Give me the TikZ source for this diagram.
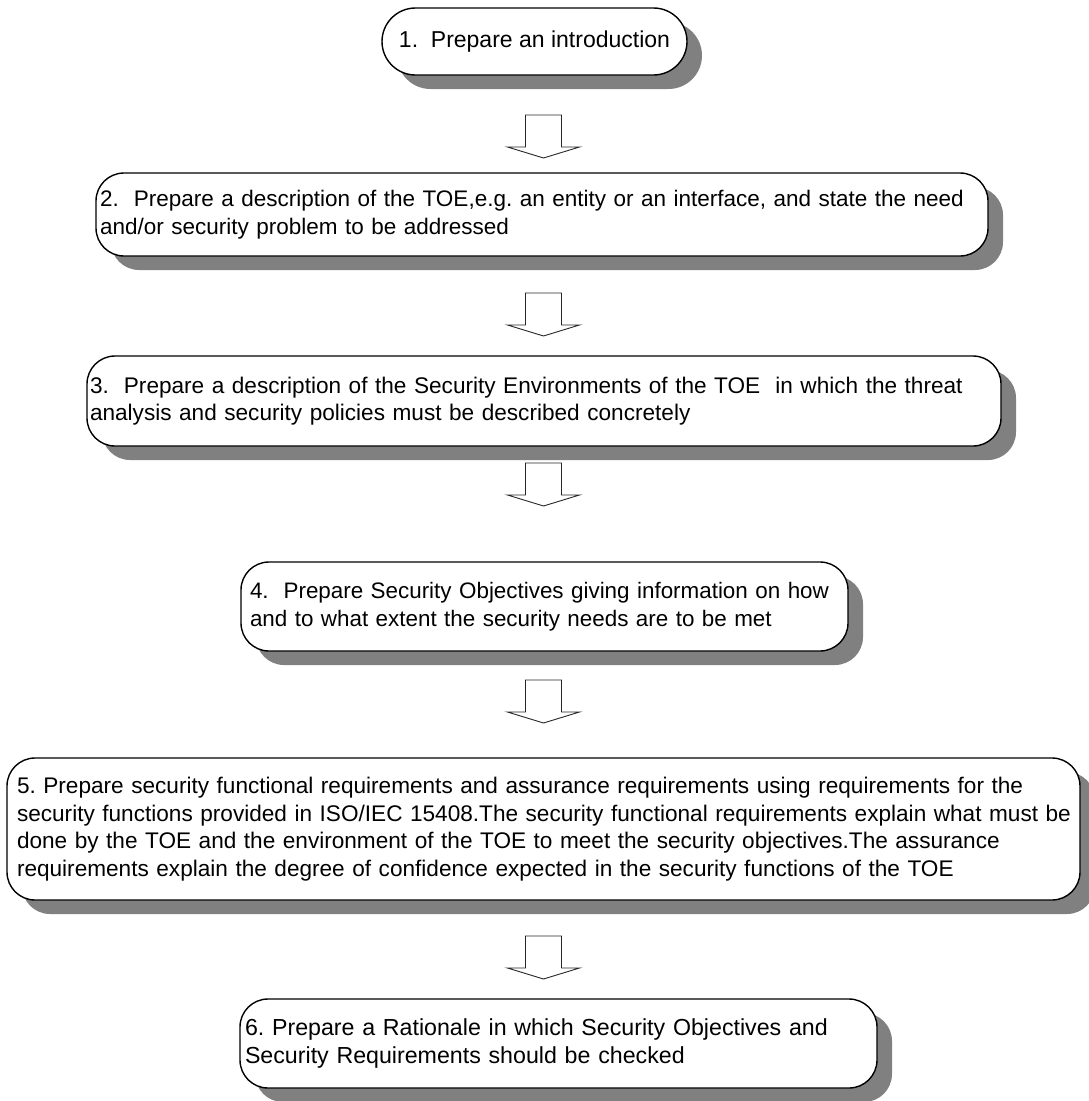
\documentclass[tikz,border=0pt]{standalone}
\usepackage{fontspec}
\setmainfont{Liberation Sans}
\usetikzlibrary{shadows}
\newcommand{\fs}[1]{\fontsize{#1}{27.5}\selectfont\frenchspacing}
\begin{document}
\begin{tikzpicture}[x=1pt,y=-1pt,
  stepbox/.style={draw=black, line width=1.4pt, fill=white, rounded corners=28pt,
    align=left, inner ysep=0pt, font=\fs{22.5},
    drop shadow={shadow xshift=15pt, shadow yshift=-14pt, fill=black!50, opacity=1}},
  blockarrow/.pic={\draw[line width=0.9pt, draw=black!85, fill=white]
    (-18,0) -- (18,0) -- (18,32) -- (36,32) -- (0,43) -- (-36,32) -- (-18,32) -- cycle;}
  ]
\useasboundingbox (0,0) rectangle (1088,1101);

% process steps
\node[stepbox, font=\fs{23}, rounded corners=33.5pt, align=center, minimum width=305pt, minimum height=67pt]
  (s1) at (534.5,41.5) {1.\ \ Prepare an introduction};

\node[stepbox, minimum width=892pt, minimum height=83pt, inner xsep=4pt, text width=884pt]
  (s2) at (542,214.5) {2.\ \ Prepare a description of the TOE,e.g. an entity or an interface, and state the need\\
  and/or security problem to be addressed};

\node[stepbox, font=\fs{22.6}, minimum width=914pt, minimum height=90pt, inner xsep=3pt, text width=908pt]
  (s3) at (544,401) {3.\ \ Prepare a description of the Security Environments of the TOE\ \ in which the threat\\
  analysis and security policies must be described concretely};

\node[stepbox, font=\fs{22.4}, minimum width=607pt, minimum height=89pt, inner xsep=9pt, text width=589pt]
  (s4) at (544.5,606.5) {4.\ \ Prepare Security Objectives giving information on how\\
  and to what extent the security needs are to be met};

\node[stepbox, font=\fs{22.6}, minimum width=1073pt, minimum height=142pt, inner xsep=10pt, text width=1053pt]
  (s5) at (543.5,829) {\makebox[1016pt][s]{5. Prepare security functional requirements and assurance requirements using requirements for the}\\
  \makebox[1058pt][s]{security functions provided in ISO/IEC 15408.The security functional requirements explain what must be}\\
  \makebox[978pt][s]{done by the TOE and the environment of the TOE to meet the security objectives.The assurance}\\
  requirements explain the degree of confidence expected in the security functions of the TOE};

\node[stepbox, font=\fs{23.2}, minimum width=637pt, minimum height=89pt, inner xsep=5pt, text width=627pt]
  (s6) at (558.5,1043.5) {6. Prepare a Rationale in which Security Objectives and\\
  Security Requirements should be checked};

% hollow block arrows between the steps
\coordinate (a1) at (543.5,115);
\coordinate (a2) at (543.5,293);
\coordinate (a3) at (543.5,463);
\coordinate (a4) at (543.5,680);
\coordinate (a5) at (543.5,936);
\foreach \a in {a1,a2,a3,a4,a5} \pic at (\a) {blockarrow};
\end{tikzpicture}
\end{document}
